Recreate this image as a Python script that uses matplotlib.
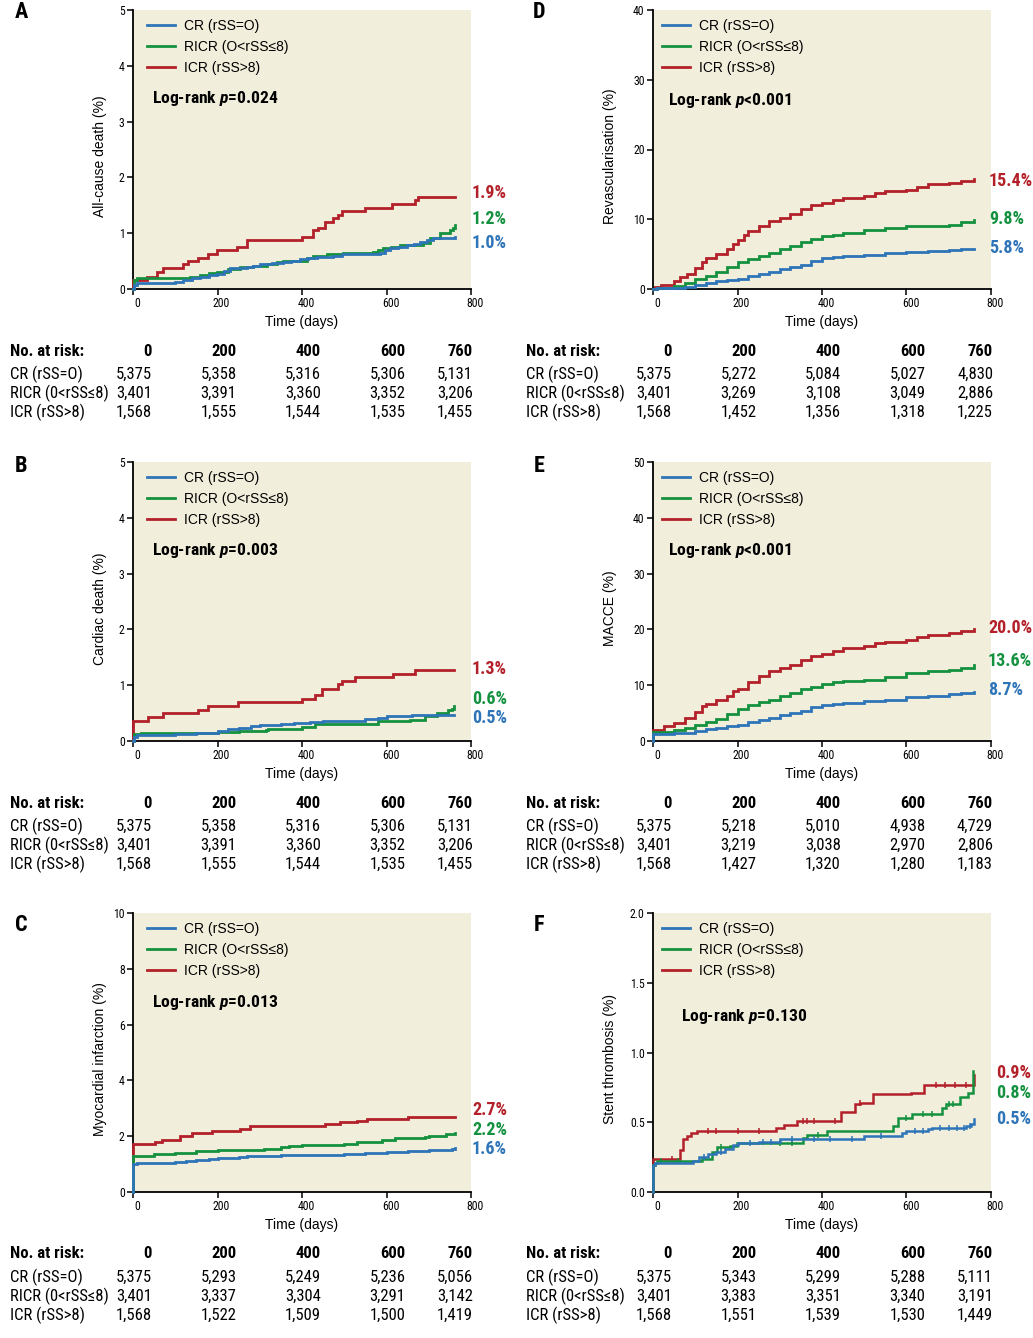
import matplotlib
matplotlib.use('Agg')
import matplotlib.pyplot as plt
import matplotlib.font_manager as fm
from matplotlib.transforms import blended_transform_factory, ScaledTranslation
from matplotlib.lines import Line2D

# ---------------- fonts ----------------
_ttf = fm.fontManager.ttflist


def _has(name, bold=False, italic=False):
    for f in _ttf:
        if f.name != name:
            continue
        w = f.weight if isinstance(f.weight, int) else {'bold': 700, 'normal': 400, 'regular': 400}.get(str(f.weight), 400)
        if bold and w < 600:
            continue
        if not bold and w >= 600:
            continue
        if italic != (f.style in ('italic', 'oblique')):
            continue
        return True
    return False


def _pick(prefs, need_bold=True):
    for p in prefs:
        if _has(p) and (not need_bold or _has(p, bold=True)):
            return p
    return 'DejaVu Sans'


NARROW = _pick(['Roboto Condensed', 'Archivo Narrow', 'Fira Sans Condensed', 'IBM Plex Sans Condensed',
                'Barlow Semi Condensed', 'Encode Sans Condensed', 'Asap Condensed', 'Liberation Sans Narrow'])
SANS = _pick(['Liberation Sans', 'Arimo', 'Nimbus Sans', 'TeX Gyre Heros', 'Roboto', 'Inter'], need_bold=False)
NARROW_FAM = [NARROW, 'DejaVu Sans']
SANS_FAM = [SANS, 'DejaVu Sans']
plt.rcParams['mathtext.fontset'] = 'custom'
plt.rcParams['mathtext.bfit'] = f'{NARROW}:italic:bold'
plt.rcParams['mathtext.it'] = f'{NARROW}:italic:bold'
plt.rcParams['mathtext.rm'] = f'{NARROW}:bold'

# ---------------- data ----------------
GROUPS = ['CR (rSS=O)', 'RICR (O<rSS\u22648)', 'ICR (rSS>8)']
TABLE_GROUPS = ['CR (rSS=O)', 'RICR (0<rSS\u22648)', 'ICR (rSS>8)']
X_TICKS = [0, 200, 400, 600, 800]
RISK_DAYS = [0, 200, 400, 600, 760]

# Panel A: all-cause death (%), (day, cumulative %)
A_CR = [(0, 0), (3, 0.08), (10, 0.1), (80, 0.1), (100, 0.13), (119, 0.16), (140, 0.19), (159, 0.22),
        (180, 0.25), (198, 0.27), (215, 0.33), (230, 0.37), (250, 0.38), (269, 0.4), (285, 0.42),
        (300, 0.45), (330, 0.47), (356, 0.49), (375, 0.51), (395, 0.53), (415, 0.55), (435, 0.57),
        (455, 0.58), (474, 0.6), (495, 0.62), (514, 0.63), (550, 0.635), (585, 0.64), (596, 0.69),
        (608, 0.73), (628, 0.76), (648, 0.79), (665, 0.81), (679, 0.84), (695, 0.87), (711, 0.91),
        (735, 0.92), (762, 0.94)]
A_RICR = [(0, 0), (2, 0.17), (10, 0.19), (111, 0.2), (135, 0.22), (159, 0.25), (180, 0.28), (198, 0.31),
          (225, 0.35), (253, 0.4), (285, 0.42), (316, 0.44), (340, 0.48), (356, 0.51), (411, 0.55),
          (427, 0.6), (460, 0.62), (498, 0.64), (569, 0.66), (580, 0.7), (592, 0.73), (610, 0.76),
          (632, 0.79), (687, 0.83), (703, 0.91), (727, 1.0), (750, 1.05), (758, 1.1), (762, 1.15)]
A_ICR = [(0, 0), (0, 0.16), (32, 0.22), (56, 0.3), (72, 0.38), (119, 0.45), (131, 0.5), (155, 0.56),
         (178, 0.62), (198, 0.69), (247, 0.75), (269, 0.87), (399, 0.93), (427, 1.05), (439, 1.1),
         (454, 1.2), (474, 1.27), (486, 1.33), (494, 1.4), (549, 1.46), (612, 1.52), (667, 1.6),
         (675, 1.65), (762, 1.65)]

# Panel B: cardiac death (%)
B_CR = [(0, 0), (3, 0.08), (10, 0.1), (60, 0.11), (100, 0.13), (150, 0.15), (200, 0.18), (225, 0.21),
        (250, 0.23), (280, 0.26), (300, 0.28), (350, 0.31), (380, 0.33), (420, 0.34), (450, 0.35),
        (500, 0.36), (550, 0.39), (580, 0.41), (600, 0.44), (630, 0.45), (660, 0.46), (760, 0.47)]
B_RICR = [(0, 0), (2, 0.12), (20, 0.14), (200, 0.16), (250, 0.18), (315, 0.2), (320, 0.22), (400, 0.25),
          (430, 0.3), (565, 0.31), (580, 0.35), (655, 0.38), (690, 0.45), (720, 0.5), (745, 0.55),
          (755, 0.58), (760, 0.62)]
B_ICR = [(0, 0), (0, 0.36), (36, 0.43), (72, 0.5), (155, 0.56), (178, 0.62), (249, 0.69), (399, 0.75),
         (431, 0.82), (447, 0.94), (486, 1.02), (494, 1.08), (525, 1.14), (616, 1.2), (667, 1.27),
         (760, 1.27)]

# Panel C: myocardial infarction (%)
C_CR = [(0, 0), (0, 1.0), (10, 1.03), (100, 1.07), (125, 1.1), (150, 1.15), (180, 1.18), (200, 1.22),
        (250, 1.27), (270, 1.3), (350, 1.32), (420, 1.33), (500, 1.36), (550, 1.4), (600, 1.42),
        (650, 1.47), (700, 1.5), (740, 1.52), (755, 1.55), (762, 1.57)]
C_RICR = [(0, 0), (0, 1.3), (50, 1.35), (100, 1.4), (150, 1.48), (200, 1.52), (310, 1.55), (350, 1.6),
          (370, 1.65), (400, 1.7), (500, 1.73), (530, 1.78), (590, 1.85), (620, 1.92), (690, 1.97),
          (700, 2.02), (740, 2.08), (762, 2.12)]
C_ICR = [(0, 0), (0, 1.72), (52, 1.8), (68, 1.86), (111, 2.0), (139, 2.1), (186, 2.17), (253, 2.25),
         (277, 2.35), (454, 2.42), (490, 2.5), (529, 2.56), (553, 2.62), (652, 2.7), (762, 2.7)]

# Panel D: revascularisation (%)
D_CR = [(0, 0), (10, 0.1), (50, 0.2), (75, 0.35), (100, 0.6), (125, 0.85), (150, 1.1), (175, 1.3),
        (200, 1.5), (225, 1.9), (250, 2.2), (275, 2.5), (300, 2.8), (325, 3.1), (350, 3.5), (375, 4.0),
        (400, 4.4), (425, 4.6), (450, 4.7), (500, 4.9), (550, 5.1), (600, 5.3), (650, 5.4), (700, 5.6),
        (730, 5.7), (760, 5.8)]
D_RICR = [(0, 0), (10, 0.2), (50, 0.4), (75, 0.8), (100, 1.4), (125, 1.8), (150, 2.4), (175, 3.2),
          (200, 3.8), (225, 4.3), (250, 4.7), (275, 5.2), (300, 5.8), (325, 6.2), (350, 6.7), (375, 7.1),
          (400, 7.6), (425, 7.8), (450, 8.0), (500, 8.4), (550, 8.7), (600, 9.0), (650, 9.1), (700, 9.2),
          (730, 9.6), (760, 9.9)]
D_ICR = [(0, 0), (5, 0.3), (20, 0.6), (50, 1.2), (65, 1.7), (80, 2.2), (100, 3.0), (115, 3.8), (125, 4.4),
         (150, 5.0), (175, 5.8), (190, 6.5), (200, 7.0), (215, 7.8), (225, 8.3), (250, 9.0), (275, 9.7),
         (300, 10.2), (325, 10.8), (350, 11.5), (375, 12.0), (400, 12.3), (425, 12.8), (450, 13.0),
         (475, 13.1), (500, 13.4), (525, 13.8), (550, 14.0), (600, 14.2), (625, 14.6), (650, 15.0),
         (680, 15.1), (700, 15.2), (730, 15.5), (760, 15.7)]

# Panel E: MACCE (%)
E_CR = [(0, 0), (0, 1.3), (50, 1.4), (75, 1.5), (100, 1.8), (125, 2.1), (150, 2.4), (175, 2.6), (200, 2.9),
        (225, 3.4), (250, 3.8), (275, 4.2), (300, 4.6), (325, 5.0), (350, 5.4), (375, 6.1), (400, 6.4),
        (425, 6.7), (450, 6.8), (500, 7.1), (550, 7.4), (600, 7.8), (650, 8.1), (700, 8.4), (730, 8.6),
        (760, 8.8)]
E_RICR = [(0, 0), (0, 1.6), (50, 1.9), (75, 2.3), (100, 2.9), (125, 3.4), (150, 4.0), (175, 4.8),
          (200, 5.7), (225, 6.4), (250, 6.9), (275, 7.4), (300, 8.1), (325, 8.6), (350, 9.3), (375, 9.7),
          (400, 10.2), (425, 10.5), (450, 10.7), (500, 11.0), (550, 11.5), (600, 12.2), (650, 12.5),
          (680, 12.5), (700, 12.7), (730, 13.1), (760, 13.7)]
E_ICR = [(0, 0), (0, 2.0), (25, 2.6), (50, 3.2), (75, 4.2), (100, 5.2), (115, 6.2), (125, 6.7), (150, 7.3),
         (175, 8.0), (190, 9.0), (200, 9.4), (225, 10.6), (250, 11.7), (275, 12.6), (300, 13.1),
         (325, 13.7), (350, 14.5), (375, 15.2), (400, 15.6), (425, 16.2), (450, 16.6), (500, 17.0),
         (525, 17.5), (550, 17.7), (600, 18.1), (625, 18.7), (650, 19.0), (700, 19.4), (730, 19.8),
         (760, 20.1)]

# Panel F: stent thrombosis (%)
F_CR = [(0, 0), (0, 0.19), (5, 0.21), (95, 0.22), (110, 0.25), (130, 0.27), (150, 0.29), (170, 0.31),
        (190, 0.34), (200, 0.35), (250, 0.36), (300, 0.38), (400, 0.38), (500, 0.40), (590, 0.42),
        (600, 0.44), (650, 0.45), (660, 0.46), (740, 0.47), (752, 0.49), (760, 0.52)]
F_RICR = [(0, 0), (0, 0.19), (5, 0.21), (10, 0.22), (115, 0.24), (139, 0.29), (151, 0.32), (182, 0.33),
          (198, 0.35), (356, 0.39), (364, 0.41), (411, 0.44), (569, 0.47), (580, 0.53), (612, 0.56),
          (683, 0.6), (694, 0.63), (726, 0.68), (746, 0.71), (757, 0.87)]
F_ICR = [(0, 0), (0, 0.24), (60, 0.24), (64, 0.3), (70, 0.38), (80, 0.4), (90, 0.42), (103, 0.44),
         (272, 0.44), (290, 0.46), (310, 0.48), (340, 0.51), (446, 0.57), (477, 0.63), (489, 0.64),
         (520, 0.7), (611, 0.71), (642, 0.77), (757, 0.77), (760, 0.84)]
# censoring marks visible on panel F (days)
F_CR_CENS = [120, 160, 230, 260, 280, 330, 380, 420, 470, 540, 620, 640, 680, 700, 720, 735, 750]
F_RICR_CENS = [20, 60, 160, 300, 330, 390, 600, 640, 660, 700, 710]
F_ICR_CENS = [45, 130, 150, 200, 250, 355, 365, 380, 430, 490, 670, 690, 715, 740]

# end-of-follow-up labels (CR, RICR, ICR)
A_END = ['1.0%', '1.2%', '1.9%']
B_END = ['0.5%', '0.6%', '1.3%']
C_END = ['1.6%', '2.2%', '2.7%']
D_END = ['5.8%', '9.8%', '15.4%']
E_END = ['8.7%', '13.6%', '20.0%']
F_END = ['0.5%', '0.8%', '0.9%']

# numbers at risk (CR, RICR, ICR) at RISK_DAYS
A_RISK = [[5375, 5358, 5316, 5306, 5131], [3401, 3391, 3360, 3352, 3206], [1568, 1555, 1544, 1535, 1455]]
B_RISK = [[5375, 5358, 5316, 5306, 5131], [3401, 3391, 3360, 3352, 3206], [1568, 1555, 1544, 1535, 1455]]
C_RISK = [[5375, 5293, 5249, 5236, 5056], [3401, 3337, 3304, 3291, 3142], [1568, 1522, 1509, 1500, 1419]]
D_RISK = [[5375, 5272, 5084, 5027, 4830], [3401, 3269, 3108, 3049, 2886], [1568, 1452, 1356, 1318, 1225]]
E_RISK = [[5375, 5218, 5010, 4938, 4729], [3401, 3219, 3038, 2970, 2806], [1568, 1427, 1320, 1280, 1183]]
F_RISK = [[5375, 5343, 5299, 5288, 5111], [3401, 3383, 3351, 3340, 3191], [1568, 1551, 1539, 1530, 1449]]

A_YT = [0, 1, 2, 3, 4, 5]
C_YT = [0, 2, 4, 6, 8, 10]
D_YT = [0, 10, 20, 30, 40]
E_YT = [0, 10, 20, 30, 40, 50]
F_YT = [0.0, 0.5, 1.0, 1.5, 2.0]

# ---------------- style ----------------
COLORS = ['#2E74B8', '#14913F', '#B3202A']
BG = '#F2EEDC'
W, H = 1033, 1338
COL_LEFT = [133, 653]
AX_W = 338
ROW_TOP = [10, 462, 913]
AX_H = 279
ROWLABEL_X = [10, 526]
LETTER_X = [21, 539]
LETTER_Y = [12, 466, 925]
TABLE_FS = 12
BIG_FS = 12.6

fig = plt.figure(figsize=(W / 100, H / 100), dpi=100)
fig.patch.set_facecolor('white')


def step_value(series, day):
    val = series[0][1]
    for d, v in series:
        if d <= day:
            val = v
    return val


def draw_panel(col, row, letter, ylabel, ymax, yticks, ytick_fmt, series, logrank, lr_px,
               end_texts, end_y, end_dx, risk, censors=None):
    l, t = COL_LEFT[col], ROW_TOP[row]
    ax = fig.add_axes([l / W, 1 - (t + AX_H) / H, AX_W / W, AX_H / H])
    ax.set_facecolor(BG)
    ax.set_xlim(0, 800)
    ax.set_ylim(0, ymax)
    for s in ['top', 'right']:
        ax.spines[s].set_visible(False)
    for s in ['left', 'bottom']:
        ax.spines[s].set_linewidth(1.3)
    ax.tick_params(direction='out', length=4, width=1.1, pad=2)
    ax.set_xticks(X_TICKS)
    ax.set_xticklabels([str(v) for v in X_TICKS], fontfamily=NARROW_FAM, fontsize=8.5)
    ax.set_yticks(yticks)
    ax.set_yticklabels([ytick_fmt.format(v) for v in yticks], fontfamily=NARROW_FAM, fontsize=8.5)
    off = ScaledTranslation(4 / 100, 0, fig.dpi_scale_trans)
    for lb in ax.get_xticklabels():
        lb.set_transform(lb.get_transform() + off)

    lw = 2.0 if censors is None else 1.8
    for i in [2, 1, 0]:
        d = [p[0] for p in series[i]]
        v = [p[1] for p in series[i]]
        ax.plot(d, v, drawstyle='steps-post', color=COLORS[i], lw=lw, zorder=3 + (2 - i),
                solid_joinstyle='miter', clip_on=False)
        if censors is not None:
            cd = censors[i]
            cv = [step_value(series[i], c) for c in cd]
            ax.plot(cd, cv, ls='none', marker='|', ms=5, mew=1.1, color=COLORS[i], zorder=3 + (2 - i))
    handles = [Line2D([], [], color=COLORS[i], lw=2.0) for i in range(3)]
    leg_x = 14 if col == 0 else 9
    ax.legend(handles, GROUPS, loc='upper left', bbox_to_anchor=(leg_x / AX_W, 1 - 9 / AX_H),
              frameon=False, borderaxespad=0, borderpad=0, handlelength=2.0, handletextpad=0.65,
              labelspacing=0.5, prop=fm.FontProperties(family=SANS_FAM, size=10))

    ax.text(lr_px[0] / AX_W, 1 - lr_px[1] / AX_H, logrank, transform=ax.transAxes,
            ha='left', va='center', fontsize=BIG_FS, fontweight='bold', fontfamily=NARROW_FAM)

    btr = blended_transform_factory(ax.transAxes, ax.transData)
    for i in range(3):
        ax.text(1 + end_dx / AX_W, end_y[i], end_texts[i], transform=btr, ha='left', va='center',
                color=COLORS[i], fontsize=BIG_FS + 0.4, fontweight='bold', fontfamily=NARROW_FAM)

    ax.set_xlabel('Time (days)', fontfamily=SANS_FAM, fontsize=10)
    ax.xaxis.set_label_coords(0.5, -26 / AX_H)
    ax.set_ylabel(ylabel, fontfamily=SANS_FAM, fontsize=10)
    ax.yaxis.set_label_coords(-26 / AX_W if col == 0 else -36 / AX_W, 0.475)

    fig.text(LETTER_X[col] / W, 1 - LETTER_Y[row] / H, letter, ha='center', va='center',
             fontsize=16, fontweight='bold', fontfamily=NARROW_FAM)

    # numbers at risk table
    bottom = t + AX_H
    rows_y = [bottom + 62, bottom + 85, bottom + 104, bottom + 123]
    fig.text(ROWLABEL_X[col] / W, 1 - rows_y[0] / H, 'No. at risk:', ha='left', va='center',
             fontsize=TABLE_FS, fontweight='bold', fontfamily=NARROW_FAM)
    tr = blended_transform_factory(ax.transData, fig.transFigure) + \
        ScaledTranslation(19 / 100, 0, fig.dpi_scale_trans)
    for d in RISK_DAYS:
        fig.text(d, 1 - rows_y[0] / H, str(d), transform=tr, ha='right', va='center',
                 fontsize=TABLE_FS, fontweight='bold', fontfamily=NARROW_FAM)
    for g in range(3):
        y = 1 - rows_y[g + 1] / H
        fig.text(ROWLABEL_X[col] / W, y, TABLE_GROUPS[g], ha='left', va='center',
                 fontsize=TABLE_FS, fontfamily=NARROW_FAM)
        for d, n in zip(RISK_DAYS, risk[g]):
            fig.text(d, y, f'{n:,}', transform=tr, ha='right', va='center',
                     fontsize=TABLE_FS, fontfamily=NARROW_FAM)
    return ax


draw_panel(0, 0, 'A', 'All-cause death (%)', 5, A_YT, '{:g}', [A_CR, A_RICR, A_ICR],
           r'Log-rank $\mathbfit{p}$=0.024', (19, 89), A_END, [0.82, 1.25, 1.72], 1, A_RISK)
draw_panel(0, 1, 'B', 'Cardiac death (%)', 5, A_YT, '{:g}', [B_CR, B_RICR, B_ICR],
           r'Log-rank $\mathbfit{p}$=0.003', (19, 88), B_END, [0.41, 0.755, 1.29], 1, B_RISK)
draw_panel(0, 2, 'C', 'Myocardial infarction (%)', 10, C_YT, '{:g}', [C_CR, C_RICR, C_ICR],
           r'Log-rank $\mathbfit{p}$=0.013', (19, 90), C_END, [1.54, 2.22, 2.94], 1, C_RISK)
draw_panel(1, 0, 'D', 'Revascularisation (%)', 40, D_YT, '{:g}', [D_CR, D_RICR, D_ICR],
           r'Log-rank $\mathbfit{p}$<0.001', (15, 90), D_END, [5.9, 10.1, 15.5], -2, D_RISK)
draw_panel(1, 1, 'E', 'MACCE (%)', 50, E_YT, '{:g}', [E_CR, E_RICR, E_ICR],
           r'Log-rank $\mathbfit{p}$<0.001', (15, 88), E_END, [9.2, 14.4, 20.3], -3, E_RISK)
draw_panel(1, 2, 'F', 'Stent thrombosis (%)', 2.0, F_YT, '{:.1f}', [F_CR, F_RICR, F_ICR],
           r'Log-rank $\mathbfit{p}$=0.130', (28, 104), F_END, [0.52, 0.71, 0.853], 5, F_RISK,
           censors=[F_CR_CENS, F_RICR_CENS, F_ICR_CENS])

fig.savefig('out.png', dpi=100, facecolor='white')
